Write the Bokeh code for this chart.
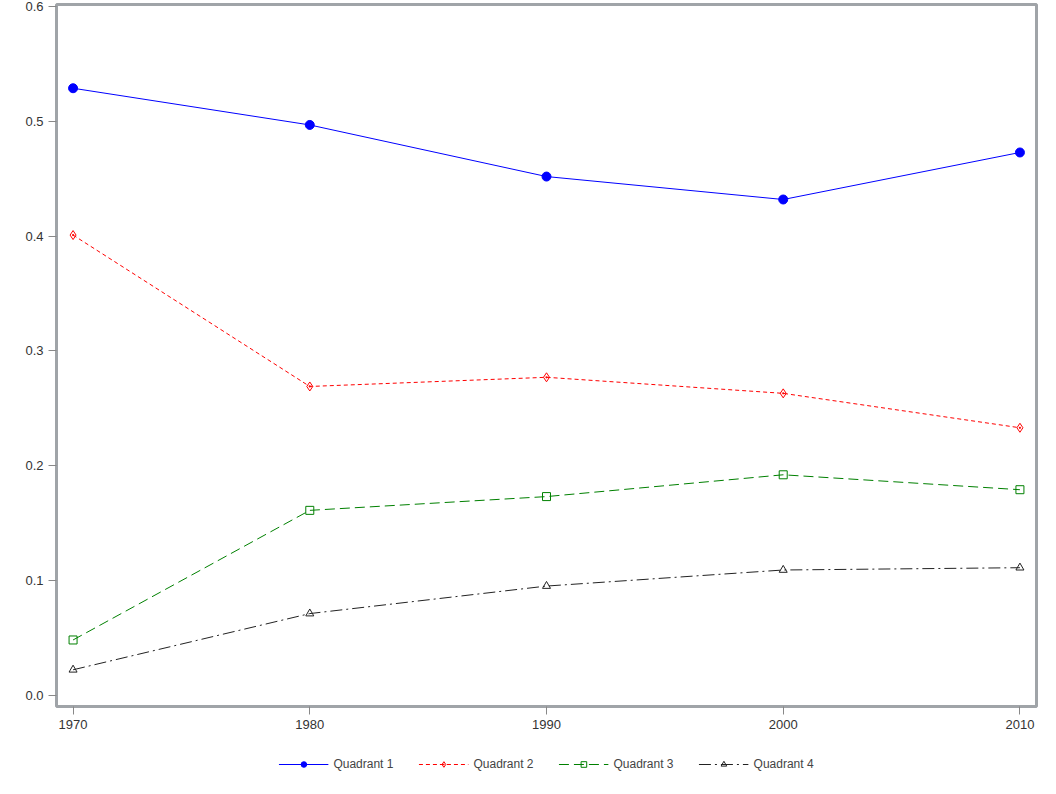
from bokeh.plotting import figure
from bokeh.layouts import column
from bokeh.models import Legend, Range1d, FixedTicker, CustomJSTickFormatter
from bokeh.embed import file_html
from bokeh.resources import INLINE

years = [1970, 1980, 1990, 2000, 2010]
q1 = [0.529, 0.497, 0.452, 0.432, 0.473]
q2 = [0.401, 0.269, 0.277, 0.263, 0.233]
q3 = [0.048, 0.161, 0.173, 0.192, 0.179]
q4 = [0.022, 0.071, 0.095, 0.109, 0.111]
names = ["Quadrant 1", "Quadrant 2", "Quadrant 3", "Quadrant 4"]

p = figure(width=1040, height=742, output_backend="svg", toolbar_location=None,
           x_range=Range1d(1969.3, 2010.7), y_range=Range1d(-0.01, 0.602),
           min_border_left=56, min_border_top=4, min_border_right=4, min_border_bottom=36)
p.outline_line_color = "#a0a4a8"
p.outline_line_width = 3
p.grid.visible = False
for ax in (p.xaxis, p.yaxis):
    ax.axis_line_color = None
    ax.minor_tick_line_color = None
    ax.major_tick_in = 0
    ax.major_tick_out = 8
    ax.major_tick_line_color = "#888888"
    ax.major_label_text_font = "Liberation Sans"
    ax.major_label_text_font_size = "13px"
    ax.major_label_text_color = "#333333"
p.xaxis.ticker = FixedTicker(ticks=years)
p.yaxis.ticker = FixedTicker(ticks=[0, 0.1, 0.2, 0.3, 0.4, 0.5, 0.6])
p.yaxis.formatter = CustomJSTickFormatter(code="return tick.toFixed(1);")

styles = [
    dict(color="blue", dash="solid", marker="circle", fill="blue", size=9),
    dict(color="red", dash="4 3", marker="diamond_dot", fill=None, size=9),
    dict(color="green", dash="10 5", marker="square", fill=None, size=8),
    dict(color="#222222", dash="12 4 2 4", marker="triangle", fill=None, size=8),
]
series = [q1, q2, q3, q4]

lf = figure(width=1040, height=44, output_backend="svg", toolbar_location=None,
            x_range=Range1d(0, 1), y_range=Range1d(0, 1), min_border=0)
lf.axis.visible = False
lf.grid.visible = False
lf.outline_line_color = None

items = []
for name, ys, st in zip(names, series, styles):
    p.line(years, ys, color=st["color"], line_dash=st["dash"], line_width=1)
    p.scatter(years, ys, line_color=st["color"], fill_color=st["fill"], size=st["size"], marker=st["marker"])
    a = lf.line([-5, -4], [-5, -4], color=st["color"], line_dash=st["dash"], line_width=1)
    b = lf.scatter([-5], [-5], line_color=st["color"], fill_color=st["fill"], size=st["size"], marker=st["marker"])
    items.append((name, [a, b]))

leg = Legend(items=items, orientation="horizontal", location="center",
             border_line_color=None, background_fill_alpha=0,
             label_text_font="Liberation Sans",
             label_text_font_size="12px", spacing=25, glyph_width=50,
             glyph_height=14, padding=0, margin=0)
lf.add_layout(leg)

open("out.html", "w").write(file_html(column(p, lf, spacing=0), INLINE))
